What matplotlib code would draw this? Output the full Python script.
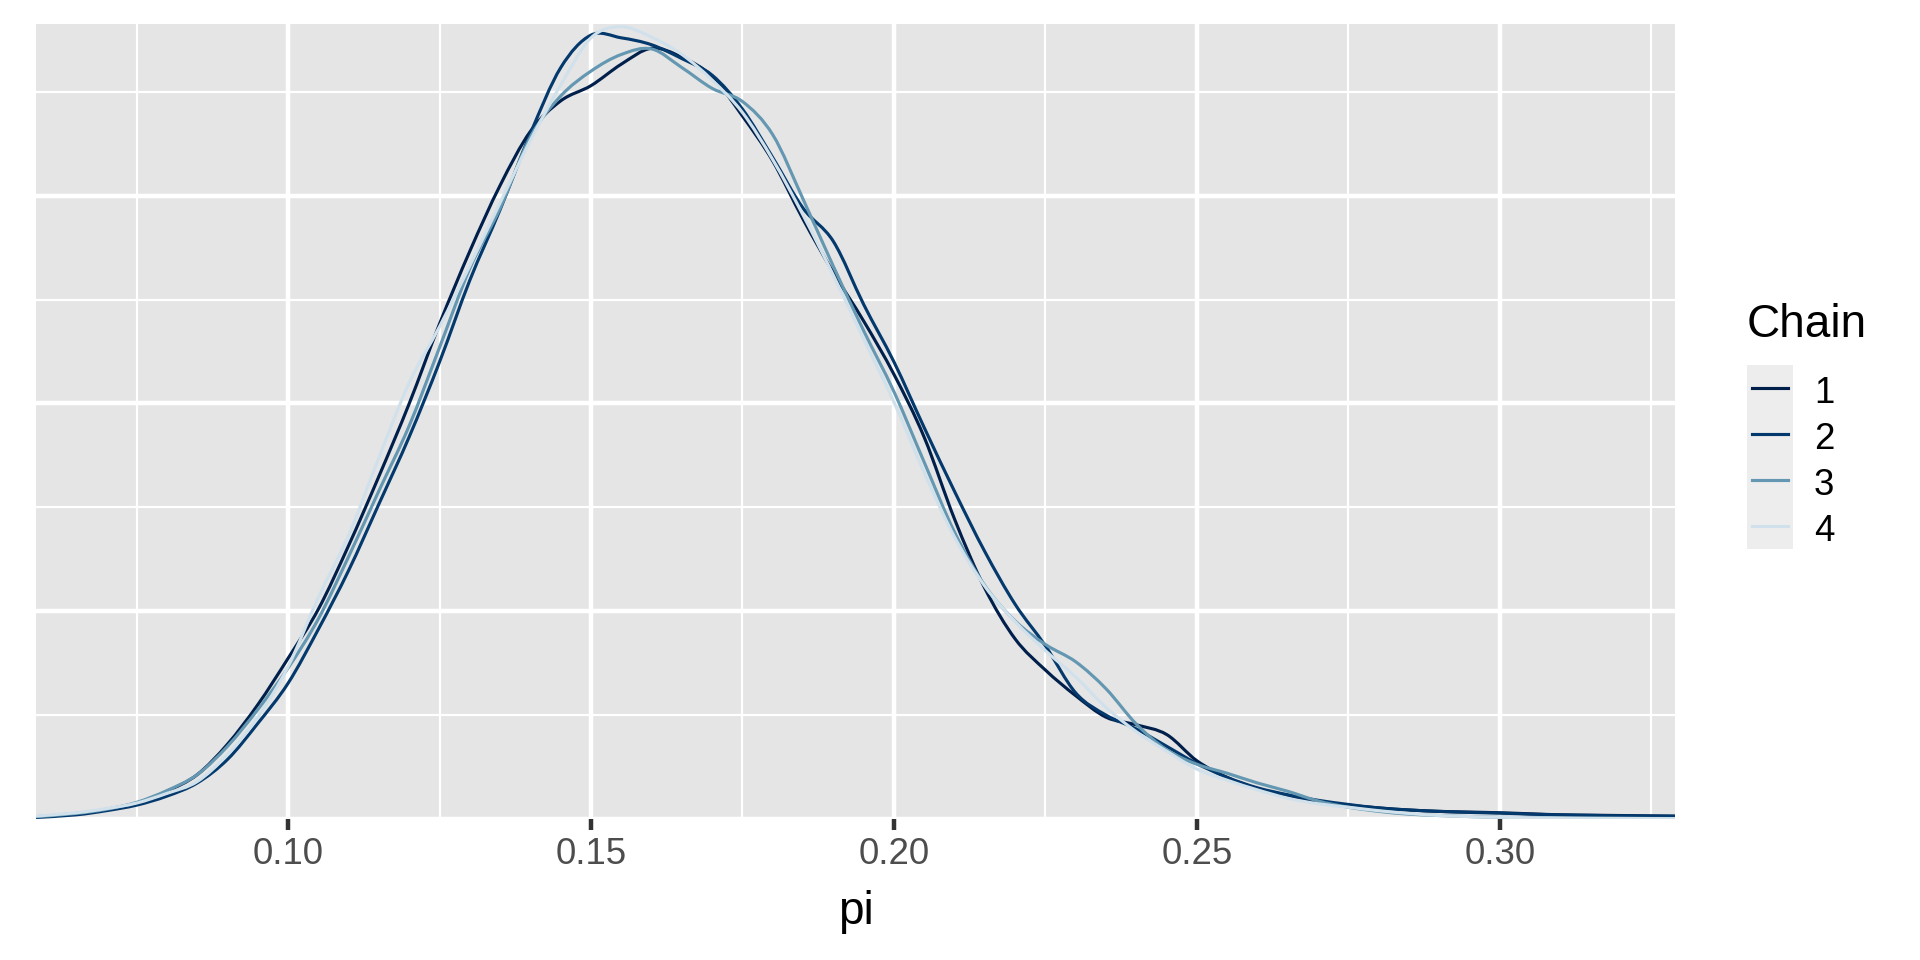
import matplotlib
matplotlib.use("Agg")
import matplotlib.pyplot as plt
from matplotlib.patches import Rectangle, PathPatch
from matplotlib.lines import Line2D
from matplotlib.path import Path

plt.rcParams['font.family'] = ['Liberation Sans', 'DejaVu Sans']

# ---------------- data ----------------
pi_grid = [0.058, 0.065, 0.070, 0.075, 0.080, 0.085, 0.090, 0.095, 0.100, 0.105,
           0.110, 0.115, 0.120, 0.125, 0.130, 0.135, 0.140, 0.145, 0.150, 0.155,
           0.160, 0.165, 0.170, 0.175, 0.180, 0.185, 0.190, 0.195, 0.200, 0.205,
           0.210, 0.215, 0.220, 0.225, 0.230, 0.235, 0.240, 0.245, 0.250, 0.255,
           0.260, 0.265, 0.270, 0.275, 0.280, 0.285, 0.290, 0.295, 0.300, 0.305,
           0.310, 0.315, 0.320, 0.325, 0.330]

chain_1 = [0.03, 0.08, 0.14, 0.23, 0.40, 0.64, 1.08, 1.65, 2.32, 3.03,
           3.95, 4.95, 6.00, 7.15, 8.20, 9.15, 9.93, 10.37, 10.59, 10.90,
           11.13, 11.00, 10.72, 10.15, 9.50, 8.66, 7.89, 7.19, 6.42, 5.51,
           4.33, 3.33, 2.60, 2.15, 1.78, 1.47, 1.36, 1.22, 0.84, 0.60,
           0.44, 0.34, 0.25, 0.20, 0.16, 0.13, 0.11, 0.10, 0.09, 0.075,
           0.06, 0.055, 0.05, 0.045, 0.04]

chain_2 = [0.02, 0.06, 0.12, 0.20, 0.33, 0.52, 0.86, 1.38, 1.96, 2.74,
           3.59, 4.55, 5.52, 6.60, 7.78, 8.80, 9.90, 10.85, 11.32, 11.28,
           11.18, 10.98, 10.74, 10.25, 9.55, 8.82, 8.34, 7.43, 6.60, 5.65,
           4.73, 3.86, 3.10, 2.50, 1.82, 1.50, 1.30, 1.05, 0.80, 0.60,
           0.45, 0.35, 0.27, 0.21, 0.16, 0.13, 0.11, 0.095, 0.085, 0.07,
           0.06, 0.052, 0.046, 0.042, 0.04]

chain_3 = [0.03, 0.08, 0.14, 0.24, 0.41, 0.64, 1.05, 1.58, 2.18, 2.89,
           3.79, 4.74, 5.68, 6.81, 7.95, 8.82, 9.85, 10.44, 10.80, 11.04,
           11.12, 10.85, 10.55, 10.36, 9.88, 8.95, 7.98, 7.05, 6.17, 5.15,
           4.14, 3.37, 2.86, 2.52, 2.27, 1.88, 1.37, 1.00, 0.79, 0.66,
           0.52, 0.40, 0.26, 0.17, 0.11, 0.07, 0.05, 0.035, 0.025, 0.02,
           0.015, 0.012, 0.01, 0.008, 0.006]

chain_4 = [0.04, 0.09, 0.15, 0.23, 0.37, 0.54, 0.93, 1.47, 2.20, 3.20,
           4.10, 5.22, 6.30, 7.11, 7.99, 8.90, 9.80, 10.60, 11.28, 11.44,
           11.29, 11.04, 10.67, 10.20, 9.52, 8.72, 7.85, 6.93, 6.02, 5.00,
           4.07, 3.36, 2.85, 2.43, 2.05, 1.61, 1.26, 0.98, 0.72, 0.56,
           0.42, 0.30, 0.22, 0.17, 0.12, 0.08, 0.05, 0.035, 0.025, 0.018,
           0.013, 0.01, 0.008, 0.006, 0.005]

chain_labels = ['1', '2', '3', '4']
chain_colors = ['#011f4b', '#03396c', '#6497b1', '#d1e1ec']

x_major = [0.10, 0.15, 0.20, 0.25, 0.30]
x_major_labels = ['0.10', '0.15', '0.20', '0.25', '0.30']
x_minor = [0.075, 0.125, 0.175, 0.225, 0.275, 0.325]
y_major = [0, 3, 6, 9]
y_minor = [1.5, 4.5, 7.5, 10.5]

# ---------------- figure ----------------
W, H = 1920, 960
fig = plt.figure(figsize=(6.4, 3.2), dpi=300)
fig.patch.set_facecolor('white')


def fx(px):
    return px / W


def fy(py):
    return 1 - py / H


def smooth_path(xs, ys):
    """Smooth curve through the read points (Catmull-Rom drawn as Bezier segments)."""
    n = len(xs)
    verts = [(xs[0], ys[0])]
    codes = [Path.MOVETO]
    for i in range(n - 1):
        x0, y0 = (xs[i - 1], ys[i - 1]) if i > 0 else (xs[i], ys[i])
        x1, y1 = xs[i], ys[i]
        x2, y2 = xs[i + 1], ys[i + 1]
        x3, y3 = (xs[i + 2], ys[i + 2]) if i + 2 < n else (xs[i + 1], ys[i + 1])
        c1 = (x1 + (x2 - x0) / 6.0, y1 + (y2 - y0) / 6.0)
        c2 = (x2 - (x3 - x1) / 6.0, y2 - (y3 - y1) / 6.0)
        verts += [c1, c2, (x2, y2)]
        codes += [Path.CURVE4, Path.CURVE4, Path.CURVE4]
    return Path(verts, codes)


ax = fig.add_axes([fx(36), fy(819), fx(1675) - fx(36), fy(24) - fy(819)])
ax.set_facecolor('#E5E5E5')
for s in ax.spines.values():
    s.set_visible(False)

ax.set_xlim(0.0584, 0.3289)
ax.set_ylim(0, 11.48)
ax.set_xticks(x_major)
ax.set_xticklabels(x_major_labels)
ax.set_xticks(x_minor, minor=True)
ax.set_yticks(y_major)
ax.set_yticks(y_minor, minor=True)
ax.tick_params(axis='x', which='major', length=2.75, width=1.07, color='#333333',
               labelsize=8.8, labelcolor='#4D4D4D', pad=1.5)
ax.tick_params(axis='x', which='minor', length=0)
ax.tick_params(axis='y', which='both', length=0, labelleft=False)
ax.grid(which='major', color='white', linewidth=1.07)
ax.grid(which='minor', color='white', linewidth=0.53)
ax.set_axisbelow(True)

chains = [chain_1, chain_2, chain_3, chain_4]
for k, (vals, c) in enumerate(zip(chains, chain_colors)):
    patch = PathPatch(smooth_path(pi_grid, vals), facecolor='none', edgecolor=c,
                      lw=0.75, joinstyle='round', zorder=2 + k * 0.01)
    ax.add_patch(patch)

ax.set_xlabel('pi', fontsize=11, color='black', labelpad=4.5)

# ---------------- legend (drawn by hand, ggplot style) ----------------
fig.text(fx(1747), fy(337), 'Chain', fontsize=11, ha='left', va='baseline', color='black')
fig.add_artist(Rectangle((fx(1747), fy(549)), fx(1793) - fx(1747), fy(365) - fy(549),
                         transform=fig.transFigure, facecolor='#EDEDED', edgecolor='none'))
for i, (lab, c) in enumerate(zip(chain_labels, chain_colors)):
    yc = 388 + i * 46
    fig.add_artist(Line2D([fx(1752), fx(1788)], [fy(yc), fy(yc)], transform=fig.transFigure,
                          color=c, lw=0.75))
    fig.text(fx(1814), fy(yc + 15), lab, fontsize=8.8, ha='left', va='baseline', color='black')

fig.savefig('out.png', dpi=300)
